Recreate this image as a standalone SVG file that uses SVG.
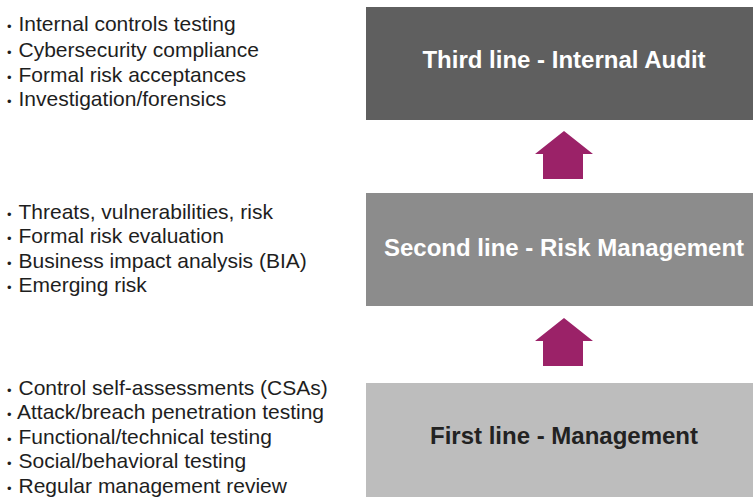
<svg xmlns="http://www.w3.org/2000/svg" width="753" height="498" viewBox="0 0 753 498">
<style>
.list{font-family:"Liberation Sans",Arial,sans-serif;font-size:21px;fill:#1e1e1e}
.b{font-size:13px}
.title{font-family:"Liberation Sans",Arial,sans-serif;font-size:24px;font-weight:bold;text-anchor:middle}
.arrow{fill:#9b2268}
</style>
<rect width="753" height="498" fill="#ffffff"/>
<g id="third-line">
<rect x="366" y="7" width="387" height="113" fill="#5f5f5f"/>
<text class="title" x="564" y="68" fill="#ffffff">Third line - Internal Audit</text>
</g>
<g id="second-line">
<rect x="366" y="193" width="387" height="113" fill="#8c8c8c"/>
<text class="title" x="564" y="256" fill="#ffffff">Second line - Risk Management</text>
</g>
<g id="first-line">
<rect x="366" y="383" width="387" height="114" fill="#bdbdbd"/>
<text class="title" x="564" y="444" fill="#222222">First line - Management</text>
</g>
<g id="list-third">
<text class="list" y="31"><tspan class="b" x="7">•</tspan><tspan x="18.5">Internal controls testing</tspan></text>
<text class="list" y="56.5"><tspan class="b" x="7">•</tspan><tspan x="18.5">Cybersecurity compliance</tspan></text>
<text class="list" y="81.5"><tspan class="b" x="7">•</tspan><tspan x="18.5">Formal risk acceptances</tspan></text>
<text class="list" y="106"><tspan class="b" x="7">•</tspan><tspan x="18.5">Investigation/forensics</tspan></text>
</g>
<g id="list-second">
<text class="list" y="218.5"><tspan class="b" x="7">•</tspan><tspan x="18.5">Threats, vulnerabilities, risk</tspan></text>
<text class="list" y="243"><tspan class="b" x="7">•</tspan><tspan x="18.5">Formal risk evaluation</tspan></text>
<text class="list" y="267.5"><tspan class="b" x="7">•</tspan><tspan x="18.5">Business impact analysis (BIA)</tspan></text>
<text class="list" y="292"><tspan class="b" x="7">•</tspan><tspan x="18.5">Emerging risk</tspan></text>
</g>
<g id="list-first">
<text class="list" y="394.5"><tspan class="b" x="7">•</tspan><tspan x="18.5">Control self-assessments (CSAs)</tspan></text>
<text class="list" y="418.5"><tspan class="b" x="7">•</tspan><tspan x="17">Attack/breach penetration testing</tspan></text>
<text class="list" y="443.5"><tspan class="b" x="7">•</tspan><tspan x="18.5">Functional/technical testing</tspan></text>
<text class="list" y="468"><tspan class="b" x="7">•</tspan><tspan x="18.5">Social/behavioral testing</tspan></text>
<text class="list" y="492.5"><tspan class="b" x="7">•</tspan><tspan x="18.5">Regular management review</tspan></text>
</g>
<g id="connectors">
<polygon class="arrow" points="564,131 593,154 583,154 583,179 543,179 543,154 535,154"/>
<polygon class="arrow" points="564,318 593,341 583,341 583,366 543,366 543,341 535,341"/>
</g>
</svg>
